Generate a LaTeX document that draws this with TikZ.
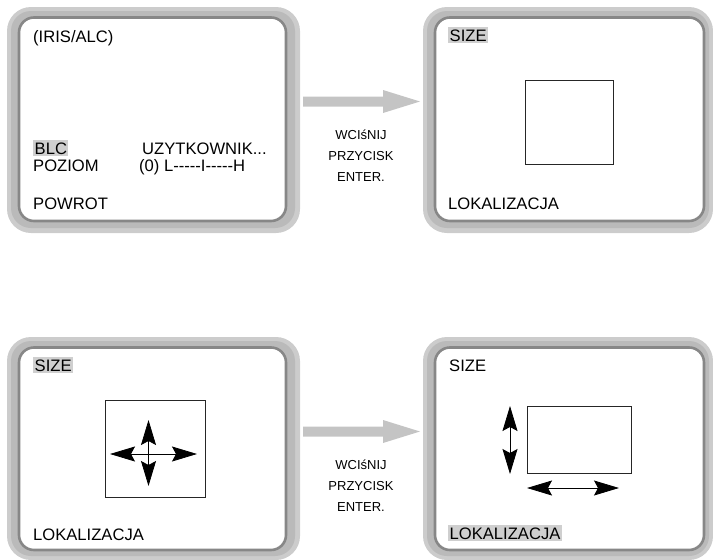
\documentclass[tikz,border=0pt]{standalone}
\usepackage{fontspec}
\setmainfont{Liberation Sans}
\usepackage{tikz}
\usetikzlibrary{arrows.meta}
\usepackage{xcolor}

\tikzset{
  menutext/.style={anchor=base west,inner sep=0pt,font=\fontsize{16.6}{20}\selectfont},
  marked/.style={menutext,fill=black!19,inner xsep=1.5pt,inner ysep=2pt},
  hinttext/.style={anchor=base,inner sep=0pt,font=\fontsize{13}{15}\selectfont},
  bigarrow/.style={fill=black!23},
  screenring/.style={fill=black!20,rounded corners=24pt},
  screenin/.style={fill=white,draw=black!47,line width=2.6pt,rounded corners=15pt},
}

\begin{document}
\begin{tikzpicture}[x=1pt,y=-1pt,>={Stealth[length=25pt,width=15pt,inset=4pt]},line cap=round]
\useasboundingbox (0,0) rectangle (713,560);
% screen frames
\fill[screenring] (7,7) rectangle (300,233);
\fill[screenring] (423,7) rectangle (713,233);
\fill[screenring] (7,337) rectangle (300,560);
\fill[screenring] (423,337) rectangle (713,560);
\fill[black!27,rounded corners=20pt] (11,11) rectangle (295,228);
\fill[black!27,rounded corners=20pt] (427,11) rectangle (709,228);
\fill[black!27,rounded corners=20pt] (11,341) rectangle (295,556);
\fill[black!27,rounded corners=20pt] (427,341) rectangle (709,556);
\filldraw[screenin] (19,17.5) rectangle (286,221);
\filldraw[screenin] (435,17.5) rectangle (704,221);
\filldraw[screenin] (19,347.5) rectangle (286,550);
\filldraw[screenin] (435,347.5) rectangle (704,550);

% gray arrows
\fill[bigarrow] (303,96.5) -- (383,96.5) -- (383,90) -- (420,101.5) -- (383,113) -- (383,106.5) -- (303,106.5) -- cycle;
\fill[bigarrow] (303,426.5) -- (383,426.5) -- (383,420) -- (420,431.5) -- (383,443) -- (383,436.5) -- (303,436.5) -- cycle;
\node[hinttext] (hintA1) at (361,139) {WCIśNIJ};
\node[hinttext] (hintA2) at (361,160) {PRZYCISK};
\node[hinttext] (hintA3) at (361,181) {ENTER.};
\node[hinttext] (hintB1) at (361,469) {WCIśNIJ};
\node[hinttext] (hintB2) at (361,490) {PRZYCISK};
\node[hinttext] (hintB3) at (361,511) {ENTER.};

% screen 1
\node[menutext] (iris) at (33,42) {(IRIS/ALC)};
\node[marked] (blc) at (33,154) {BLC};
\node[menutext] (poziom) at (33,171.5) {POZIOM};
\node[menutext] (uzyt) at (142,154) {UZYTKOWNIK...};
\node[menutext] (skala) at (139,171.5) {(0) L{-}{-}{-}{-}{-}I{-}{-}{-}{-}{-}H};
\node[menutext] (powrot) at (33,209) {POWROT};

% screen 2
\node[marked] (sizeA) at (448,41) {SIZE};
\draw[black!85,line width=0.8pt] (525,80) rectangle (613,164);
\node[menutext] (lokA) at (448,209) {LOKALIZACJA};

% screen 3
\node[marked] (sizeB) at (33,371) {SIZE};
\draw[black!85,line width=0.8pt] (105,400) rectangle (205,497);
\draw[->,line width=0.8pt] (148.5,454) -- (110,454);
\draw[->,line width=0.8pt] (148.5,454) -- (197,454);
\draw[->,line width=0.8pt] (148.5,454) -- (148.5,420);
\draw[->,line width=0.8pt] (148.5,454) -- (148.5,486);
\node[menutext] (lokB) at (33,540) {LOKALIZACJA};

% screen 4
\node[menutext] (sizeC) at (449,371) {SIZE};
\draw[black!85,line width=0.8pt] (527,406) rectangle (631,473);
\draw[<->,line width=0.8pt] (510,406) -- (510,474);
\draw[<->,line width=0.8pt] (527,488) -- (619,488);
\node[marked] (lokC) at (448,539) {LOKALIZACJA};
\end{tikzpicture}
\end{document}
